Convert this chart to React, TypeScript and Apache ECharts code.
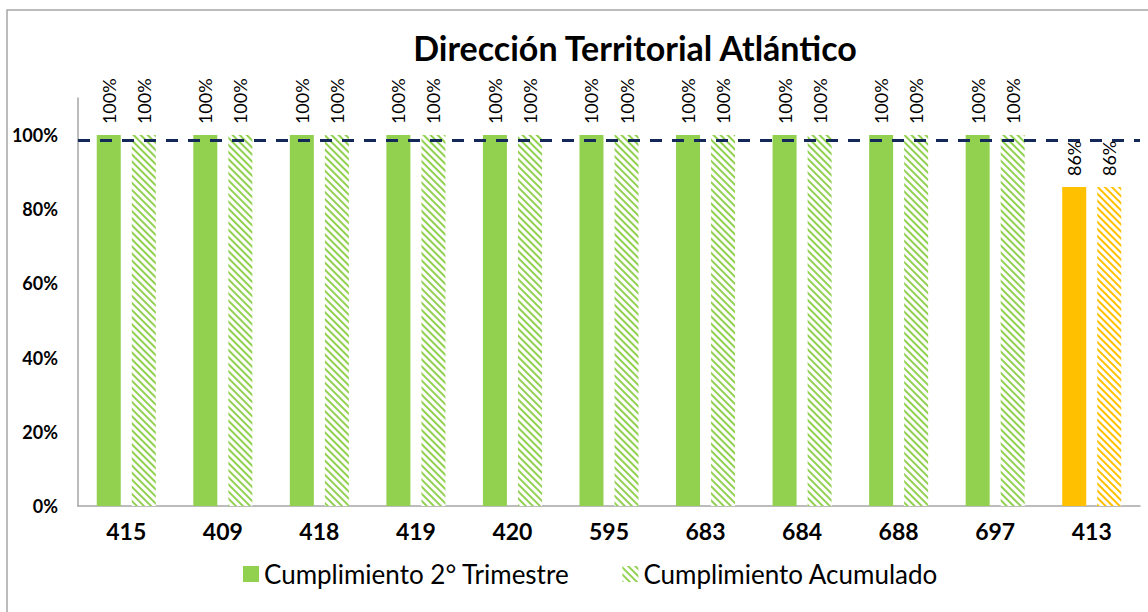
import React, { useEffect, useRef } from "react";
import * as echarts from "echarts";

const categories = ["415", "409", "418", "419", "420", "595", "683", "684", "688", "697", "413"];
const trimestre = [100, 100, 100, 100, 100, 100, 100, 100, 100, 100, 86];
const acumulado = [100, 100, 100, 100, 100, 100, 100, 100, 100, 100, 86];
const meta = 98.7;
const yTicks = [0, 20, 40, 60, 80, 100];

const GREEN = "#92D050";
const ORANGE = "#FFC000";
const FONT = "Lato, 'Open Sans', sans-serif";

function hatch(color: string) {
  return {
    symbol: "rect",
    symbolSize: 1,
    dashArrayX: [1, 0],
    dashArrayY: [1.8, 2.6],
    rotation: Math.PI / 4,
    color,
    backgroundColor: "#ffffff",
  };
}

export default function App() {
  const ref = useRef<HTMLDivElement>(null);
  useEffect(() => {
    if (!ref.current) return;
    const chart = echarts.init(ref.current, null, { renderer: "svg" });
    const label = {
      show: true,
      position: "top",
      rotate: 90,
      align: "left",
      verticalAlign: "middle",
      distance: 11,
      formatter: "{c}%",
      color: "#000",
      fontSize: 18,
      fontFamily: FONT,
    };
    chart.setOption({
      animation: false,
      backgroundColor: "#fff",
      title: {
        text: "Dirección Territorial Atlántico",
        left: 630,
        textAlign: "center",
        top: 25,
        textStyle: { fontSize: 34, fontWeight: "bold", color: "#000", fontFamily: FONT },
      },
      graphic: [
        {
          type: "rect",
          shape: { x: 7, y: 10, width: 1200, height: 700 },
          style: { fill: "none", stroke: "#a6a6a6", lineWidth: 1.5 },
          silent: true,
        },
      ],
      legend: {
        bottom: 20,
        left: 238,
        icon: "rect",
        itemWidth: 16,
        itemHeight: 16,
        itemGap: 53,
        textStyle: { fontSize: 26, color: "#000", fontFamily: FONT },
        data: ["Cumplimiento 2° Trimestre", "Cumplimiento Acumulado"],
      },
      grid: { left: 78, right: 8, top: 98, bottom: 106 },
      xAxis: {
        type: "category",
        data: categories,
        axisLine: { lineStyle: { color: "#a6a6a6", width: 1.5 } },
        axisTick: { show: false },
        axisLabel: { fontSize: 23, fontWeight: "bold", color: "#000", margin: 13, fontFamily: FONT },
      },
      yAxis: {
        type: "value",
        min: 0,
        max: 110,
        interval: 20,
        axisLine: { show: true, lineStyle: { color: "#a6a6a6", width: 1.5 } },
        axisTick: { show: false },
        splitLine: { show: false },
        axisLabel: {
          fontSize: 18,
          fontWeight: "bold",
          color: "#000",
          margin: 20,
          fontFamily: FONT,
          showMaxLabel: false,
          formatter: (v: number) => (yTicks.includes(v) ? v + "%" : ""),
        },
      },
      series: [
        {
          name: "Cumplimiento 2° Trimestre",
          type: "bar",
          barWidth: 24,
          barGap: "46%",
          itemStyle: { color: GREEN },
          label,
          data: trimestre.map((v, i) =>
            i === trimestre.length - 1 ? { value: v, itemStyle: { color: ORANGE } } : v
          ),
          markLine: {
            silent: true,
            symbol: "none",
            label: { show: false },
            lineStyle: { color: "#14285a", type: [12, 10], width: 3 },
            data: [{ yAxis: meta }],
          },
          z: 2,
        },
        {
          name: "Cumplimiento Acumulado",
          type: "bar",
          barWidth: 24,
          itemStyle: { color: "#ffffff", decal: hatch(GREEN) },
          label,
          data: acumulado.map((v, i) =>
            i === acumulado.length - 1
              ? { value: v, itemStyle: { color: "#ffffff", decal: hatch(ORANGE) } }
              : v
          ),
          z: 1,
        },
      ],
    });
    return () => chart.dispose();
  }, []);
  return (
    <div
      ref={ref}
      style={{ position: "absolute", left: 0, top: 0, width: 1148, height: 612 }}
    />
  );
}
